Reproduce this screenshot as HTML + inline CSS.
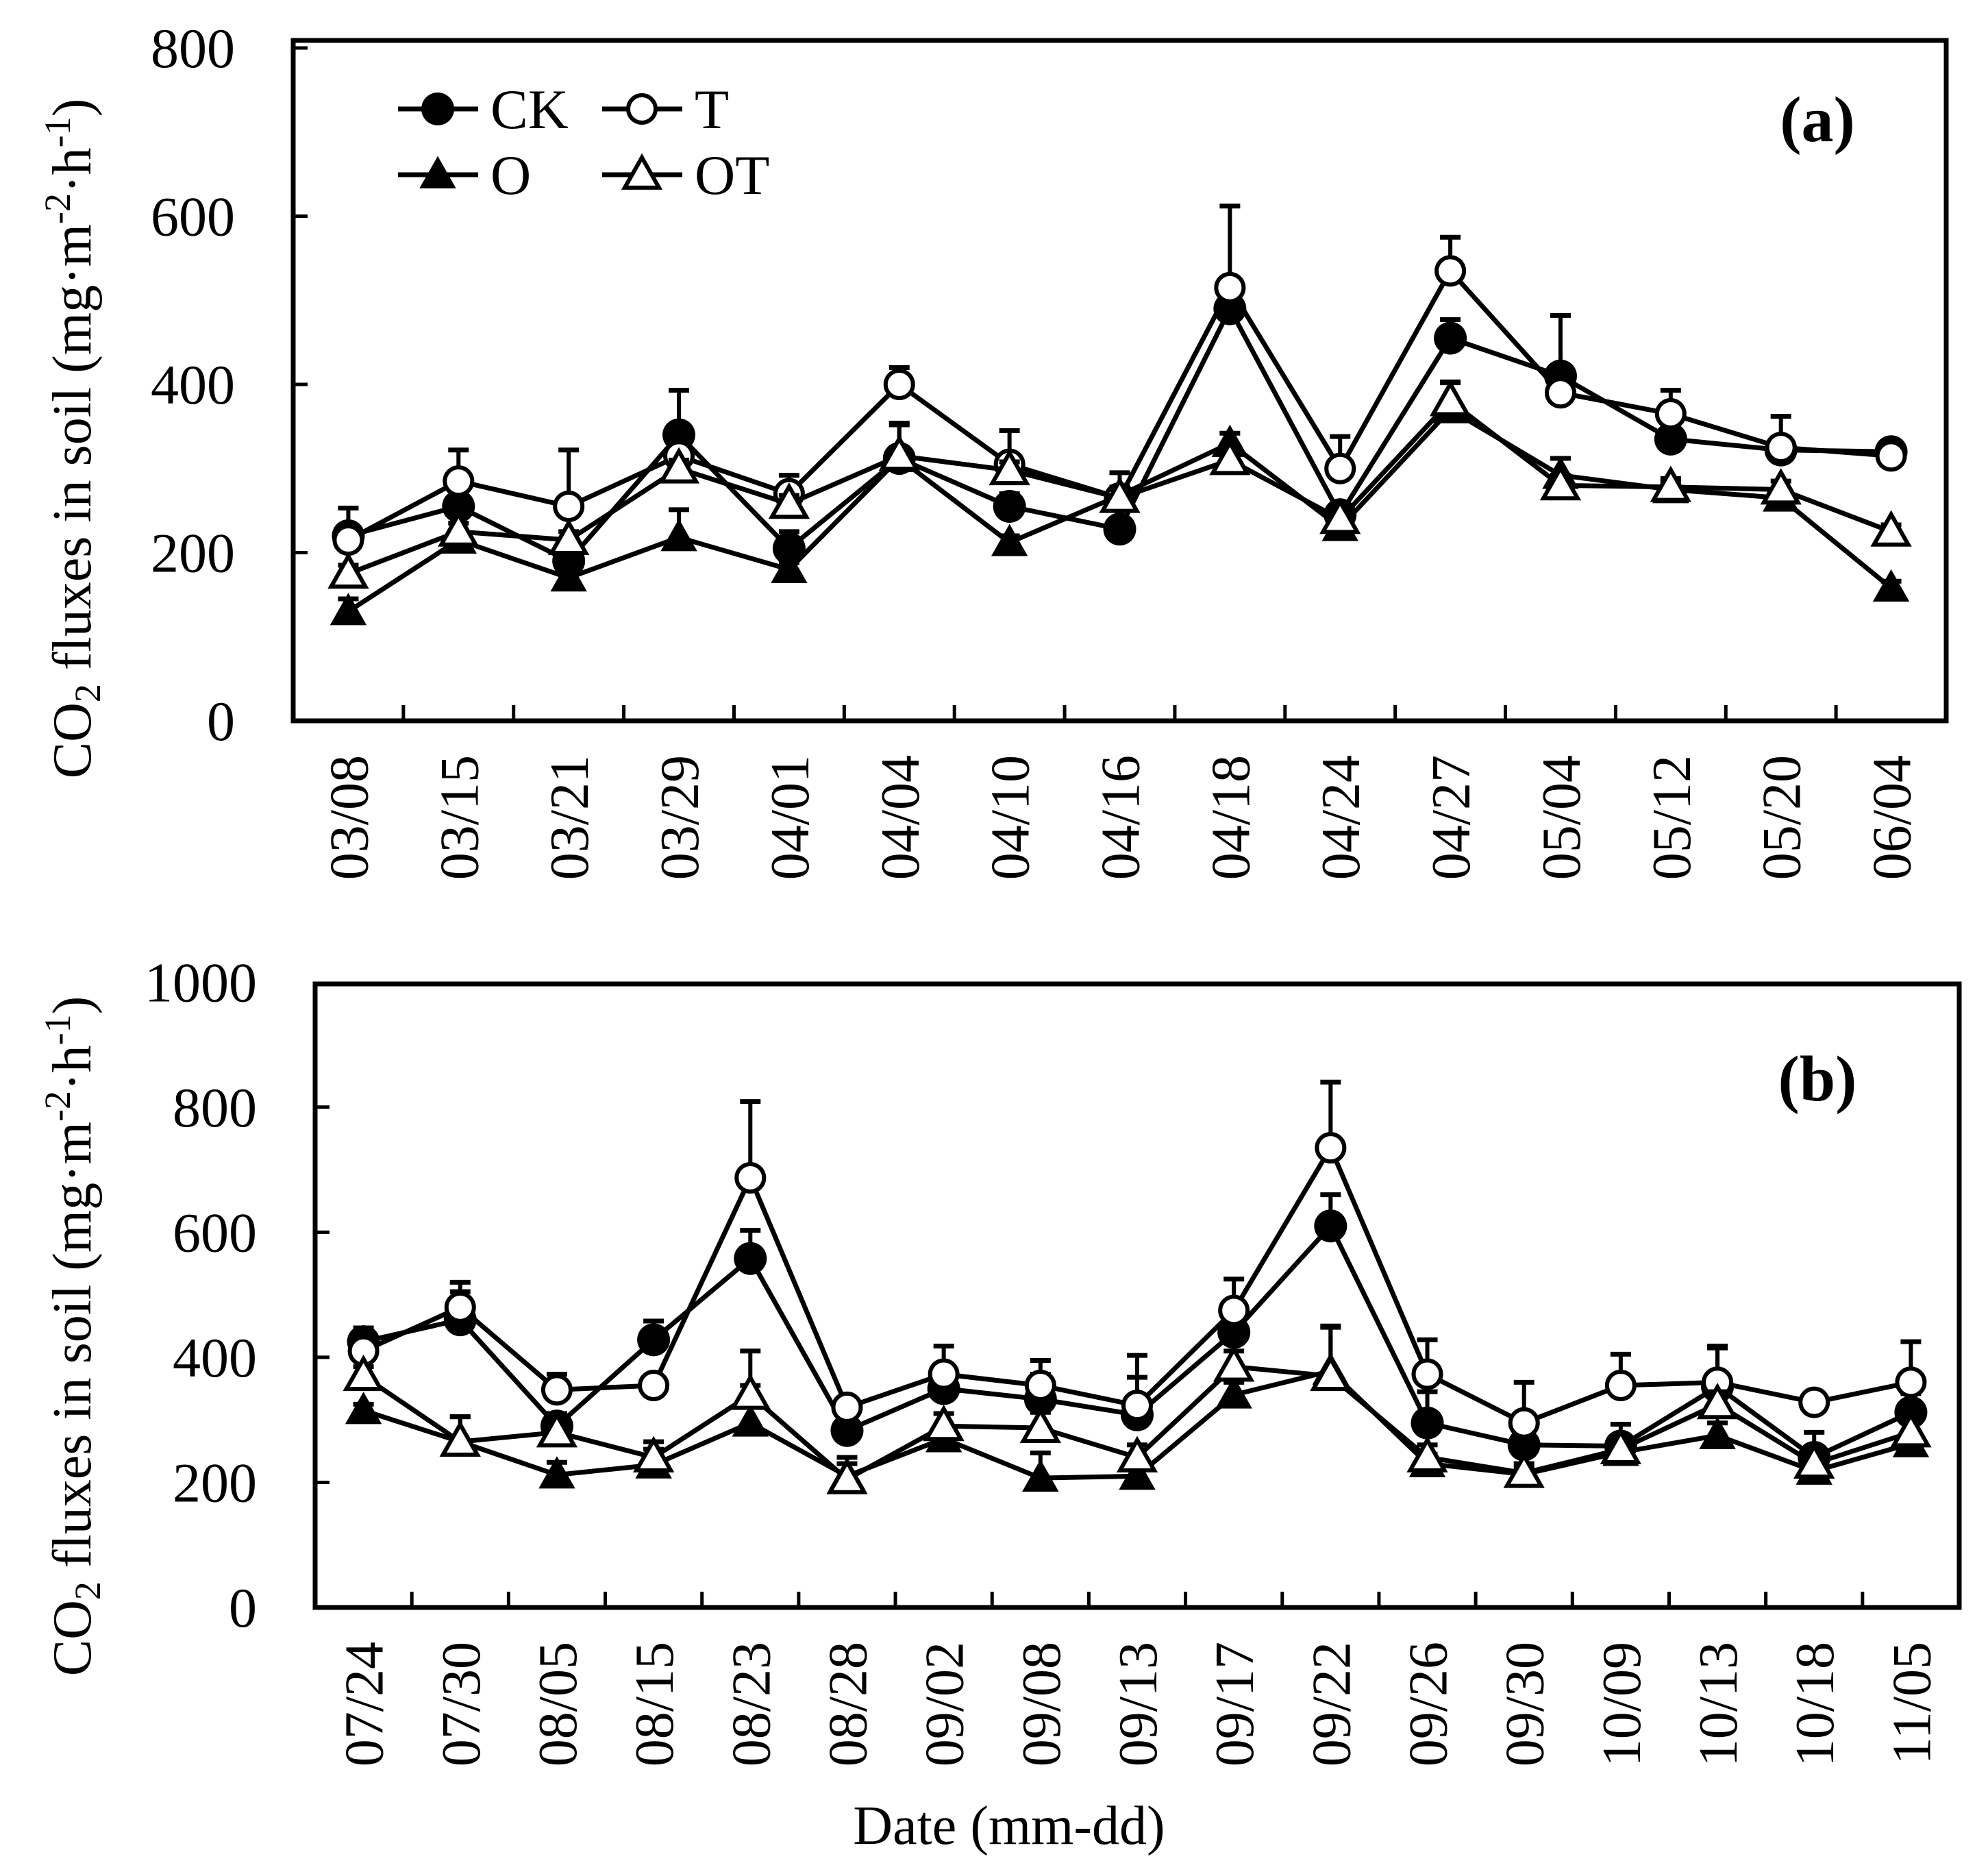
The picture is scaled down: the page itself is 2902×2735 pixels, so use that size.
<!DOCTYPE html>
<html><head><meta charset="utf-8"><style>
html,body{margin:0;padding:0;background:#fff;}
svg{display:block;font-family:"Liberation Serif","Times New Roman",serif;}
</style></head><body>
<svg id="chart" width="2902" height="2735" viewBox="0 0 2902 2735" xmlns="http://www.w3.org/2000/svg"></svg>
<script>
const catsA = ["03/08","03/15","03/21","03/29","04/01","04/04","04/10","04/16","04/18","04/24","04/27","05/04","05/12","05/20","06/04"];
const ckA = [220,255,190,340,205,312,255,228,490,245,455,410,335,322,320];
const tA  = [215,285,255,315,270,400,305,265,515,300,535,390,365,325,315];
const oA  = [130,215,170,218,180,312,212,268,330,230,370,292,275,265,158];
const otA = [175,225,215,300,258,315,298,265,310,240,380,280,278,275,225];
const ckAErr = [33,10,10,53,20,42,15,5,10,10,22,72,12,40,10];
const tAErr  = [8,37,67,5,22,20,40,30,97,38,40,8,28,12,8];
const oAErr  = [15,10,8,33,8,40,8,10,12,10,33,20,10,10,8];
const otAErr = [10,10,10,10,10,10,10,10,15,10,22,12,10,10,8];
const ticksA = [0,200,400,600,800];

const catsB = ["07/24","07/30","08/05","08/15","08/23","08/28","09/02","09/08","09/13","09/17","09/22","09/26","09/30","10/09","10/13","10/18","11/05"];
const ckB = [425,460,290,428,558,283,350,333,308,440,610,295,260,258,353,240,312];
const tB  = [410,480,348,355,687,320,373,355,323,475,735,373,295,355,360,328,360];
const oB  = [315,265,212,228,295,210,270,207,210,340,378,230,213,248,275,218,262];
const otB = [370,265,280,240,340,205,290,287,240,385,370,240,215,253,325,230,280];
const ckBErr = [22,45,20,30,45,12,25,40,60,30,50,50,25,35,65,40,30];
const tBErr  = [30,40,25,10,122,15,45,40,80,50,105,55,65,50,55,15,65];
const oBErr  = [10,40,20,25,60,30,20,40,30,20,70,15,10,10,20,20,10];
const otBErr = [15,40,20,25,70,25,20,25,20,25,80,20,15,20,20,25,15];
const ticksB = [0,200,400,600,800,1000];

const NS="http://www.w3.org/2000/svg";
const svg=document.getElementById('chart');
function mk(tag,attrs,parent){const e=document.createElementNS(NS,tag);for(const k in attrs)e.setAttribute(k,attrs[k]);(parent||svg).appendChild(e);return e;}

function marker(g,type,x,y){
  let e;
  if(type==='ck'||type==='t'){
    e=mk('circle',{cx:x,cy:y,r:type==='ck'?24:20,fill:type==='ck'?'#000':'#fff',stroke:'#000','stroke-width':type==='ck'?0:6},g);
  } else {
    const h=42,w=50;
    e=mk('polygon',{points:`${x},${y-h*0.6} ${x-w/2},${y+h*0.45} ${x+w/2},${y+h*0.45}`,fill:type==='o'?'#000':'#fff',stroke:'#000','stroke-width':type==='o'?2:6,'stroke-linejoin':'miter'},g);
  }
  return e;
}

function panel(cfg){
  const {L,R,T,B,max,cats,series,ticks,label,labelX,labelY,titleY,name}=cfg;
  const g=mk('g',{});
  
  
  const band=(R-L)/cats.length;
  const xs=i=>L+band*(i+0.5);
  const ys=v=>B-(v/max)*(B-T);
  const fr=mk('rect',{x:L,y:T,width:R-L,height:B-T,fill:'none',stroke:'#000','stroke-width':7},g);
  
  
  ticks.forEach(v=>{
    const y=ys(v);
    if(v>0&&v<max){const tk=mk('line',{x1:L,x2:L+21,y1:y,y2:y,stroke:'#000','stroke-width':5},g);
      
      }
    const t=mk('text',{x:L-85,y:y+28,'text-anchor':'end','font-size':82},g);
    t.textContent=v;
    
    
  });
  for(let i=1;i<cats.length;i++){
    const x=L+band*i;
    const tk=mk('line',{x1:x,x2:x,y1:B,y2:B-23,stroke:'#000','stroke-width':5},g);
    
    
  }
  cats.forEach((c,i)=>{
    const x=xs(i), y=B+50;
    const t=mk('text',{x:0,y:0,'text-anchor':'end','font-size':80,transform:`translate(${x+28},${y}) rotate(-90)`},g);
    t.textContent=c;
    
    
  });
  series.forEach(s=>{
    const sg=mk('g',{},g);
    
    
    s.vals.forEach((v,i)=>{
      const x=xs(i),y=ys(v),ye=ys(v+s.err[i]);
      const eb=mk('line',{x1:x,x2:x,y1:y,y2:ye,stroke:'#000','stroke-width':6},sg);
      
      
      const cap=mk('line',{x1:x-15,x2:x+15,y1:ye,y2:ye,stroke:'#000','stroke-width':7},sg);
      
      
    });
    const pts=s.vals.map((v,i)=>xs(i)+','+ys(v)).join(' ');
    const pl=mk('polyline',{points:pts,fill:'none',stroke:'#000','stroke-width':7,'stroke-linejoin':'round'},sg);
    
    
    s.vals.forEach((v,i)=>{
      const m=marker(sg,s.key,xs(i),ys(v));
      
      
    });
  });
  const pl=mk('text',{x:labelX,y:labelY,'text-anchor':'middle','font-size':94,'font-weight':'bold'},g);
  pl.textContent=label;
  
  
  const yt=mk('text',{x:0,y:0,'text-anchor':'middle','font-size':80,transform:`translate(132,${titleY}) rotate(-90)`},g);
  yt.innerHTML='CO<tspan font-size="54" dy="14">2</tspan><tspan dy="-14"> fluxes in soil (mg·m</tspan><tspan font-size="54" dy="-30">-2</tspan><tspan dy="30">·h</tspan><tspan font-size="54" dy="-30">-1</tspan><tspan dy="30">)</tspan>';
  
  
}

panel({L:428,R:2841,T:59,B:1052,max:809,cats:catsA,ticks:ticksA,label:'(a)',labelX:2653,labelY:206,titleY:640,name:'panel-a',
  series:[{key:'ck',vals:ckA,err:ckAErr},{key:'t',vals:tA,err:tAErr},{key:'o',vals:oA,err:oAErr},{key:'ot',vals:otA,err:otAErr}]});
panel({L:460,R:2860,T:1436,B:2346,max:997,cats:catsB,ticks:ticksB,label:'(b)',labelX:2653,labelY:1606,titleY:1950,name:'panel-b',
  series:[{key:'ck',vals:ckB,err:ckBErr},{key:'t',vals:tB,err:tBErr},{key:'o',vals:oB,err:oBErr},{key:'ot',vals:otB,err:otBErr}]});

const lg=mk('g',{});


[['ck','CK',581,159],['t','T',879,159],['o','O',581,255],['ot','OT',879,255]].forEach(([k,txt,x0,y])=>{
  const eg=mk('g',{},lg);
  
  
  mk('line',{x1:x0,x2:x0+117,y1:y,y2:y,stroke:'#000','stroke-width':7},eg);
  marker(eg,k,x0+58,y);
  const t=mk('text',{x:x0+135,y:y+28,'font-size':82},eg);
  t.textContent=txt;
});

const xt=mk('text',{x:1473,y:2691,'text-anchor':'middle','font-size':80});
xt.textContent='Date (mm-dd)';


</script>
</body></html>
